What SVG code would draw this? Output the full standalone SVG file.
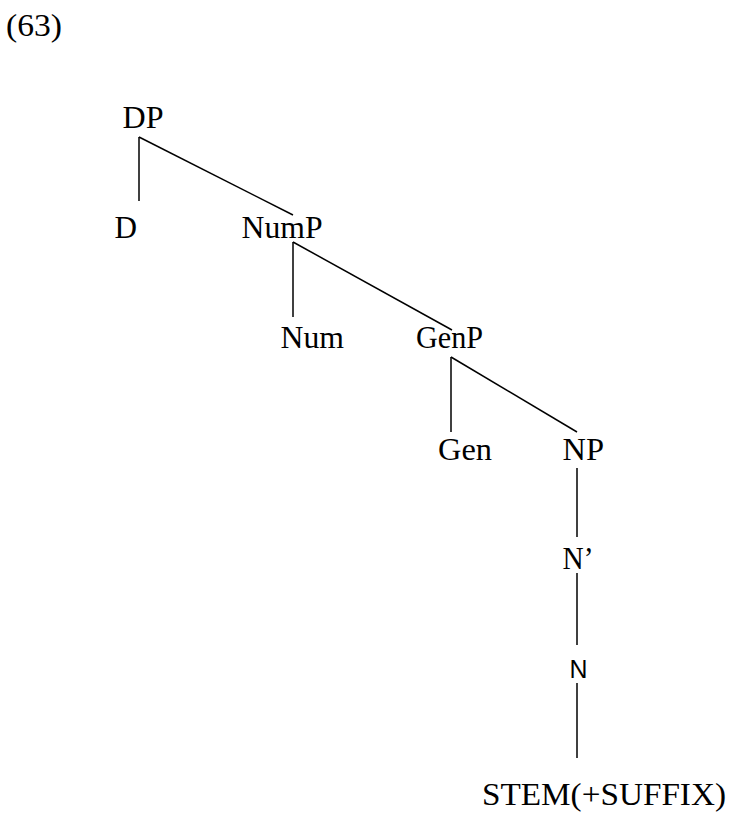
<svg xmlns="http://www.w3.org/2000/svg" width="732" height="814" viewBox="0 0 732 814">
<style>
.t{font-family:"Liberation Serif","Times New Roman",serif;font-size:32px;fill:#000}
.s{font-family:"Liberation Sans",Arial,sans-serif;font-size:25px;fill:#000}
.e{stroke:#000;stroke-width:1.5;fill:none}
</style>
<rect width="732" height="814" fill="#fff"/>
<text class="t" x="6" y="36" textLength="56" lengthAdjust="spacingAndGlyphs">(63)</text>
<g id="connectors">
<line class="e" x1="139" y1="137" x2="139" y2="201"/>
<line class="e" x1="139" y1="137" x2="293" y2="215"/>
<line class="e" x1="293" y1="242" x2="293" y2="317"/>
<line class="e" x1="293" y1="242" x2="452" y2="330"/>
<line class="e" x1="451" y1="357" x2="451" y2="432"/>
<line class="e" x1="451" y1="357" x2="577" y2="432"/>
<line class="e" x1="577" y1="468" x2="577" y2="537"/>
<line class="e" x1="577" y1="573" x2="577" y2="645"/>
<line class="e" x1="577" y1="683" x2="577" y2="758"/>
</g>
<g id="DP"><text class="t" x="122.5" y="128" textLength="41" lengthAdjust="spacingAndGlyphs">DP</text></g>
<g id="D"><text class="t" x="114.5" y="238" textLength="22.5" lengthAdjust="spacingAndGlyphs">D</text></g>
<g id="NumP"><text class="t" x="241.5" y="238" textLength="81" lengthAdjust="spacingAndGlyphs">NumP</text></g>
<g id="Num"><text class="t" x="280.5" y="348" textLength="63.5" lengthAdjust="spacingAndGlyphs">Num</text></g>
<g id="GenP"><text class="t" x="416" y="348" textLength="67" lengthAdjust="spacingAndGlyphs">GenP</text></g>
<g id="Gen"><text class="t" x="438" y="460" textLength="54" lengthAdjust="spacingAndGlyphs">Gen</text></g>
<g id="NP"><text class="t" x="562.5" y="460" textLength="41.5" lengthAdjust="spacingAndGlyphs">NP</text></g>
<g id="Nbar"><text class="t" x="562.5" y="569" textLength="31" lengthAdjust="spacingAndGlyphs">N’</text></g>
<g id="N"><text class="s" x="569.5" y="678" textLength="18" lengthAdjust="spacingAndGlyphs">N</text></g>
<g id="STEM"><text class="t" x="482" y="805" textLength="244" lengthAdjust="spacingAndGlyphs">STEM(+SUFFIX)</text></g>
</svg>
